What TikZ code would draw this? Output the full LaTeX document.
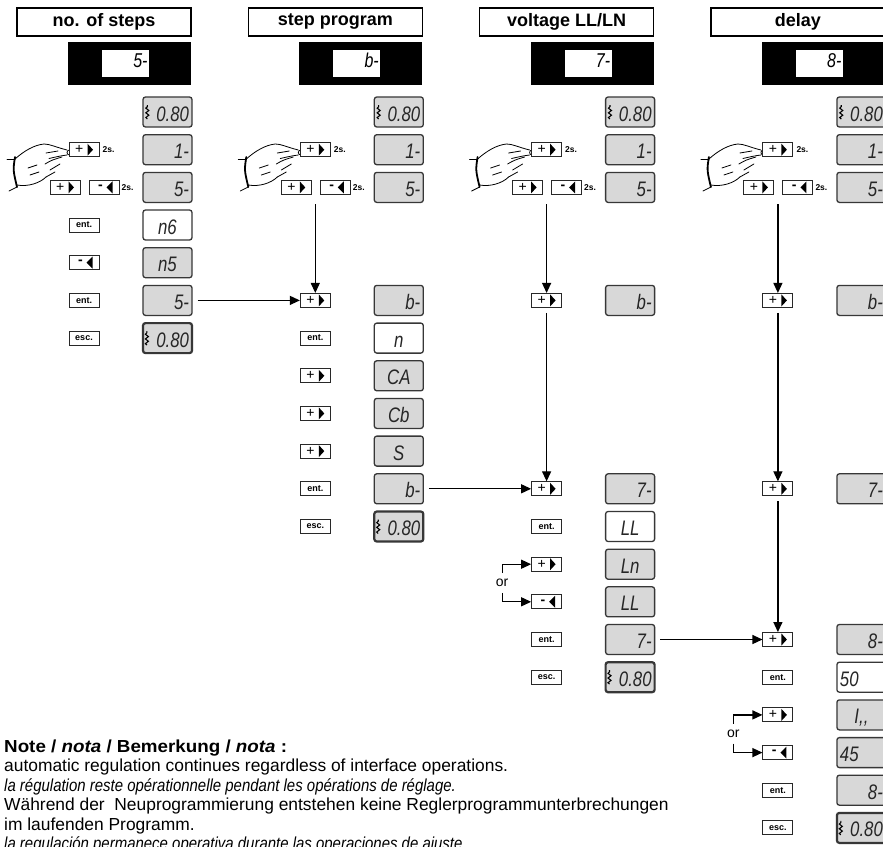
\documentclass[tikz,border=0pt]{standalone}
\usepackage{fontspec}
\setmainfont{Liberation Sans}
\newfontfamily\segfont[FakeStretch=0.8]{Liberation Sans}
\newfontfamily\narrowit[FakeStretch=0.86]{Liberation Sans}
\newfontfamily\wideb[FakeStretch=1.08]{Liberation Sans}
\usetikzlibrary{arrows.meta,decorations.pathmorphing}
\definecolor{dispfill}{RGB}{216,216,216}
\definecolor{displine}{RGB}{55,55,55}
\definecolor{btnline}{RGB}{40,40,40}
\tikzset{
 hdr/.style={draw=black, line width=1.3pt, fill=white, minimum width=174pt, minimum height=28pt, inner sep=0pt, font=\fontsize{18}{20}\selectfont\bfseries},
 blk/.style={fill=black, minimum width=123pt, minimum height=43pt, inner sep=0pt},
 win/.style={fill=white, minimum width=47pt, minimum height=27pt, inner sep=0pt, text width=44pt, align=right, text height=14pt, text depth=6pt, font=\segfont\itshape\fontsize{20}{20}\selectfont},
 disp/.style={draw=displine, fill=dispfill, line width=1.3pt, rounded corners=2.5pt, minimum width=49pt, minimum height=30pt, inner sep=0pt, text width=43pt, align=right, text height=18pt, text depth=0pt, font=\segfont\itshape\fontsize{21}{21}\selectfont, text=black!85},
 dispw/.style={disp, fill=white},
 dispe/.style={disp, line width=2.2pt},
 dc/.style={align=center},
 dl/.style={align=left},
 btn/.style={draw=btnline, fill=white, line width=0.9pt, minimum width=30pt, minimum height=14pt, inner sep=0pt, font=\fontsize{14}{14}\selectfont},
 kbtn/.style={btn, font=\fontsize{9}{9}\selectfont\bfseries},
 secs/.style={inner sep=0pt, font=\fontsize{8.5}{8.5}\selectfont\bfseries},
 arr/.style={line width=1.2pt, -{Triangle[length=10pt,width=9pt]}},
 wave/.style={line width=1.1pt, decorate, decoration={snake, amplitude=1.5pt, segment length=4.7pt}},
 handl/.style={line width=0.8pt, line cap=round, line join=round},
 ortext/.style={inner sep=0pt, font=\fontsize{14}{14}\selectfont},
 notel/.style={inner sep=0pt, anchor=base west, font=\fontsize{17.4}{19}\selectfont},
}
\newcommand{\pbtn}[2]{\node[btn] (#1) at (#2) {\makebox[18pt][l]{+}};
 \fill[black] ([xshift=3.5pt,yshift=6pt]#1.center) -- ([xshift=3.5pt,yshift=-6pt]#1.center) -- ([xshift=9pt]#1.center) -- cycle;}
\newcommand{\mbtn}[2]{\node[btn] (#1) at (#2) {\makebox[12pt][l]{\bfseries -}};
 \fill[black] ([xshift=8.5pt,yshift=6pt]#1.center) -- ([xshift=8.5pt,yshift=-6pt]#1.center) -- ([xshift=2.5pt]#1.center) -- cycle;}
\newcommand{\wavemark}[1]{\draw[wave] ([xshift=5pt,yshift=-7pt]#1.west) -- ([xshift=5pt,yshift=7pt]#1.west);}
\newcommand{\handpic}{
 \draw[handl] (7,159) -- (15,159);
 \draw[handl, line width=1.8pt] (15,157) .. controls (13,170) .. (17,187);
 \draw[handl] (9,191) -- (17,187);
 \draw[handl] (15,159) .. controls (24,151) and (34,145) .. (44,144) .. controls (50,144) and (55,147) .. (67,150);
 \draw[handl] (69.5,152.5) circle (2.5pt);
 \draw[handl] (67,155) .. controls (60,156) .. (49,158.5);
 \draw[handl] (46,153) -- (58,151);
 \draw[handl] (45,164) .. controls (52,160) .. (62,157);
 \draw[handl] (50,170) -- (60,164);
 \draw[handl] (46,177) -- (55,172);
 \draw[handl] (28,168) -- (37,165);
 \draw[handl] (30,175) -- (39,172);
 \draw[handl] (17,185) .. controls (28,187) and (40,183) .. (46,177);
}
\newcommand{\colhead}[3]{
 \node[hdr] (h#1) at (104,22) {#2};
 \node[blk] (k#1) at (129.5,63.5) {};
 \node[win] (w#1) at (125.5,63.5) {#3};
 \node[disp] (d#1r0) at (167.5,112) {0.80}; \wavemark{d#1r0}
 \node[disp] (d#1r1) at (167.5,149.7) {1-};
 \node[disp] (d#1r2) at (167.5,187.4) {5-};
 \handpic
 \pbtn{b#1a}{84,149.7}
 \node[secs] (s#1a) at (108.5,150) {2s.};
 \pbtn{b#1b}{65,187.4}
 \mbtn{b#1c}{104,187.4}
 \node[secs] (s#1b) at (127.5,187.4) {2s.};
}
\begin{document}
\begin{tikzpicture}[x=1pt,y=-1pt]
\useasboundingbox[fill=white] (0,0) rectangle (883,846);
% column 1
\begin{scope}
 \colhead{1}{no. of steps}{5-}
 \node[kbtn] (b1r3) at (84,225.0) {ent.}; \node[dispw,dc] (d1r3) at (167.5,225.0) {n6};
 \mbtn{b1r4}{84,262.7} \node[disp,dc] (d1r4) at (167.5,262.7) {n5};
 \node[kbtn] (b1r5) at (84,300.4) {ent.}; \node[disp] (d1r5) at (167.5,300.4) {5-};
 \node[kbtn] (b1r6) at (84,338.1) {esc.}; \node[dispe] (d1r6) at (167.5,338.1) {0.80}; \wavemark{d1r6}
\end{scope}
% column 2
\begin{scope}[xshift=231.3pt]
 \colhead{2}{step program}{b-}
 \coordinate (t2) at (84,204);
 \pbtn{b2r5}{84,300.4} \node[disp] (d2r5) at (167.5,300.4) {b-};
 \node[kbtn] (b2r6) at (84,338.1) {ent.}; \node[dispw,dc] (d2r6) at (167.5,338.1) {n};
 \pbtn{b2r7}{84,375.8} \node[disp,dc] (d2r7) at (167.5,375.8) {CA};
 \pbtn{b2r8}{84,413.4} \node[disp,dc] (d2r8) at (167.5,413.4) {Cb};
 \pbtn{b2r9}{84,451.1} \node[disp,dc] (d2r9) at (167.5,451.1) {S};
 \node[kbtn] (b2r10) at (84,488.8) {ent.}; \node[disp] (d2r10) at (167.5,488.8) {b-};
 \node[kbtn] (b2r11) at (84,526.5) {esc.}; \node[dispe] (d2r11) at (167.5,526.5) {0.80}; \wavemark{d2r11}
 \draw[arr] (t2) -- (b2r5.north);
\end{scope}
% column 3
\begin{scope}[xshift=462.6pt]
 \colhead{3}{voltage LL/LN}{7-}
 \coordinate (t3) at (84,204);
 \pbtn{b3r5}{84,300.4} \node[disp] (d3r5) at (167.5,300.4) {b-};
 \pbtn{b3r10}{84,488.8} \node[disp] (d3r10) at (167.5,488.8) {7-};
 \node[kbtn] (b3r11) at (84,526.5) {ent.}; \node[dispw,dc] (d3r11) at (167.5,526.5) {LL};
 \pbtn{b3r12}{84,564.2} \node[disp,dc] (d3r12) at (167.5,564.2) {Ln};
 \mbtn{b3r13}{84,601.8} \node[disp,dc] (d3r13) at (167.5,601.8) {LL};
 \node[kbtn] (b3r14) at (84,639.5) {ent.}; \node[disp] (d3r14) at (167.5,639.5) {7-};
 \node[kbtn] (b3r15) at (84,677.2) {esc.}; \node[dispe] (d3r15) at (167.5,677.2) {0.80}; \wavemark{d3r15}
 \node[ortext] (or3) at (39.5,583) {or};
 \coordinate (o3a) at (39.5,573.2);
 \coordinate (o3b) at (39.5,592.8);
 \draw[arr] (t3) -- (b3r5.north);
 \draw[arr, shorten <=5pt] (b3r5.south) -- (b3r10.north);
 \draw[arr] (o3a) |- (b3r12.west);
 \draw[arr] (o3b) |- (b3r13.west);
\end{scope}
% column 4
\begin{scope}[xshift=693.9pt]
 \colhead{4}{delay}{8-}
 \coordinate (t4) at (84,204);
 \pbtn{b4r5}{84,300.4} \node[disp] (d4r5) at (167.5,300.4) {b-};
 \pbtn{b4r10}{84,488.8} \node[disp] (d4r10) at (167.5,488.8) {7-};
 \pbtn{b4r14}{84,639.5} \node[disp] (d4r14) at (167.5,639.5) {8-};
 \node[kbtn] (b4r15) at (84,677.2) {ent.}; \node[dispw,dl] (d4r15) at (167.5,677.2) {50};
 \pbtn{b4r16}{84,714.9} \node[disp,dc] (d4r16) at (167.5,714.9) {I,,};
 \mbtn{b4r17}{84,752.6} \node[disp,dl] (d4r17) at (167.5,752.6) {45};
 \node[kbtn] (b4r18) at (84,790.2) {ent.}; \node[disp] (d4r18) at (167.5,790.2) {8-};
 \node[kbtn] (b4r19) at (84,827.9) {esc.}; \node[dispe] (d4r19) at (167.5,827.9) {0.80}; \wavemark{d4r19}
 \node[ortext] (or4) at (39.5,733.7) {or};
 \coordinate (o4a) at (39.5,723.9);
 \coordinate (o4b) at (39.5,743.6);
 \draw[arr] (t4) -- (b4r5.north);
 \draw[arr, shorten <=5pt] (b4r5.south) -- (b4r10.north);
 \draw[arr, shorten <=5pt] (b4r10.south) -- (b4r14.north);
 \draw[arr] (o4a) |- (b4r16.west);
 \draw[arr] (o4b) |- (b4r17.west);
\end{scope}
% connections between columns
\draw[arr, shorten <=5pt] (d1r5.east) -- (b2r5.west);
\draw[arr, shorten <=5pt] (d2r10.east) -- (b3r10.west);
\draw[arr, shorten <=5pt] (d3r14.east) -- (b4r14.west);
% note
\node[notel] (n1) at (4,752) {\wideb\bfseries Note / \textit{nota} / Bemerkung / \textit{nota} :};
\node[notel] (n2) at (4,771.5) {automatic regulation continues regardless of interface operations.};
\node[notel] (n3) at (4,791) {\narrowit\itshape la régulation reste opérationnelle pendant les opérations de réglage.};
\node[notel] (n4) at (4,810.5) {Während der\ \ Neuprogrammierung entstehen keine Reglerprogrammunterbrechungen};
\node[notel] (n5) at (4,830) {im laufenden Programm.};
\node[notel] (n6) at (4,849.5) {\narrowit\itshape la regulación permanece operativa durante las operaciones de ajuste.};
\end{tikzpicture}
\end{document}
